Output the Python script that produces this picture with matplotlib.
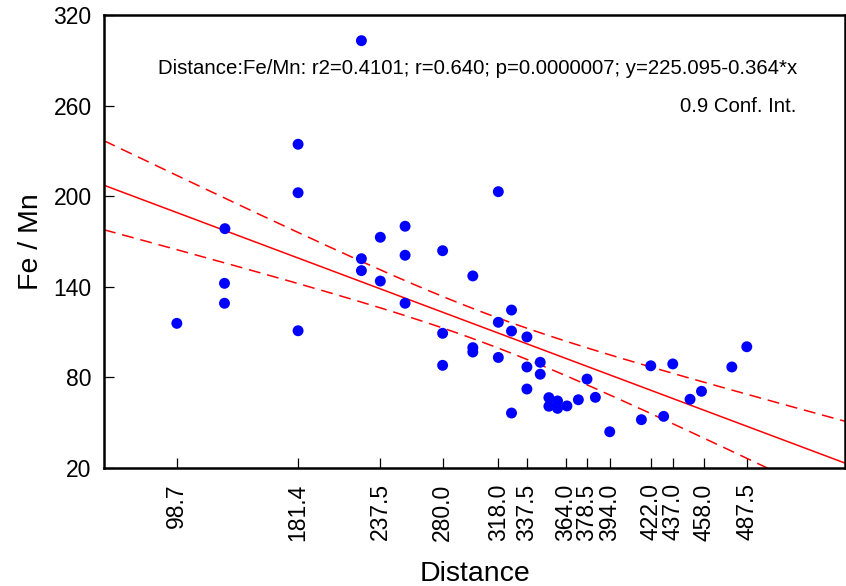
import numpy as np
import matplotlib
matplotlib.use("Agg")
import matplotlib.pyplot as plt

plt.rcParams['font.family'] = ['Liberation Sans', 'DejaVu Sans']

# Data
distance = [98.7, 131.5, 131.2, 131.2, 181.4, 181.4, 181.4,
            224.6, 224.6, 224.6, 237.5, 237.5,
            254.4, 254.4, 254.4, 280.0, 280.0, 280.0,
            300.6, 300.6, 300.6, 318.0, 318.0, 318.0,
            327.0, 327.0, 327.0, 337.5, 337.5, 337.5,
            346.6, 346.6, 352.5, 352.5, 358.4, 358.4, 364.8, 372.6,
            378.5, 384.2, 394.0, 415.6, 422.0, 430.8, 437.0,
            448.8, 456.6, 477.3, 487.5]
fe_mn = [115.8, 178.5, 142.3, 129.1, 234.4, 202.3, 110.9,
         303.0, 158.6, 150.7, 172.8, 143.8,
         180.1, 160.9, 129.1, 163.9, 109.2, 88.0,
         147.2, 99.7, 96.8, 203.0, 116.5, 93.2,
         124.6, 110.7, 56.4, 106.8, 86.9, 72.3,
         90.0, 82.1, 66.6, 60.9, 64.4, 59.5, 61.1, 65.2,
         78.9, 66.8, 44.0, 52.0, 87.7, 54.2, 88.9,
         65.5, 70.8, 86.9, 100.3]

x_ticks = [98.7, 181.4, 237.5, 280.0, 318.0, 337.5, 364.0, 378.5,
           394.0, 422.0, 437.0, 458.0, 487.5]
x_tick_labels = ["98.7", "181.4", "237.5", "280.0", "318.0", "337.5", "364.0",
                 "378.5", "394.0", "422.0", "437.0", "458.0", "487.5"]
y_ticks = [20, 80, 140, 200, 260, 320]

stats_text = "Distance:Fe/Mn: r2=0.4101; r=0.640; p=0.0000007; y=225.095-0.364*x"
ci_text = "0.9 Conf. Int."
intercept = 225.095
slope = -0.364
t_crit = 1.678  # t(0.95, df=47) for 0.9 two-sided interval

x = np.array(distance)
y = np.array(fe_mn)
n = len(x)

fig = plt.figure(figsize=(8.46, 5.86), dpi=100)
ax = fig.add_axes([104/846, 1-468/586, 741/846, 453/586])

xlim = (49.0, 554.5)
ax.set_xlim(*xlim)
ax.set_ylim(20, 320)

xs = np.linspace(xlim[0], xlim[1], 400)
yhat = intercept + slope * xs
resid = y - (intercept + slope * x)
s = np.sqrt(np.sum(resid**2) / (n - 2))
sxx = np.sum((x - x.mean())**2)
half = t_crit * s * np.sqrt(1.0/n + (xs - x.mean())**2 / sxx)

ax.plot(xs, yhat, color='#ff0000', lw=1.1, zorder=2)
ax.plot(xs, yhat + half, color='#ff0000', lw=1.1, dashes=(7.8, 4.5), zorder=2)
ax.plot(xs, yhat - half, color='#ff0000', lw=1.1, dashes=(7.8, 4.5), zorder=2)

ax.scatter(x, y, s=62, color='#0000ff', edgecolors='none', zorder=3)

ax.set_xticks(x_ticks)
ax.set_xticklabels(x_tick_labels, rotation=90)
ax.set_yticks(y_ticks)
ax.tick_params(direction='in', length=7.5, width=0.9, labelsize=16.5,
               top=False, right=False)
ax.tick_params(axis='x', pad=11)
ax.tick_params(axis='y', pad=9)
for sp in ax.spines.values():
    sp.set_linewidth(1.8)

ax.set_xlabel("Distance", fontsize=20.5, labelpad=15)
ax.set_ylabel("Fe / Mn", fontsize=20.5, labelpad=7)

ax.text(0.935, 0.883, stats_text, transform=ax.transAxes, ha='right',
        va='center', fontsize=14.7)
ax.text(0.935, 0.799, ci_text, transform=ax.transAxes, ha='right',
        va='center', fontsize=14.7)

fig.savefig("out.png", dpi=100)
